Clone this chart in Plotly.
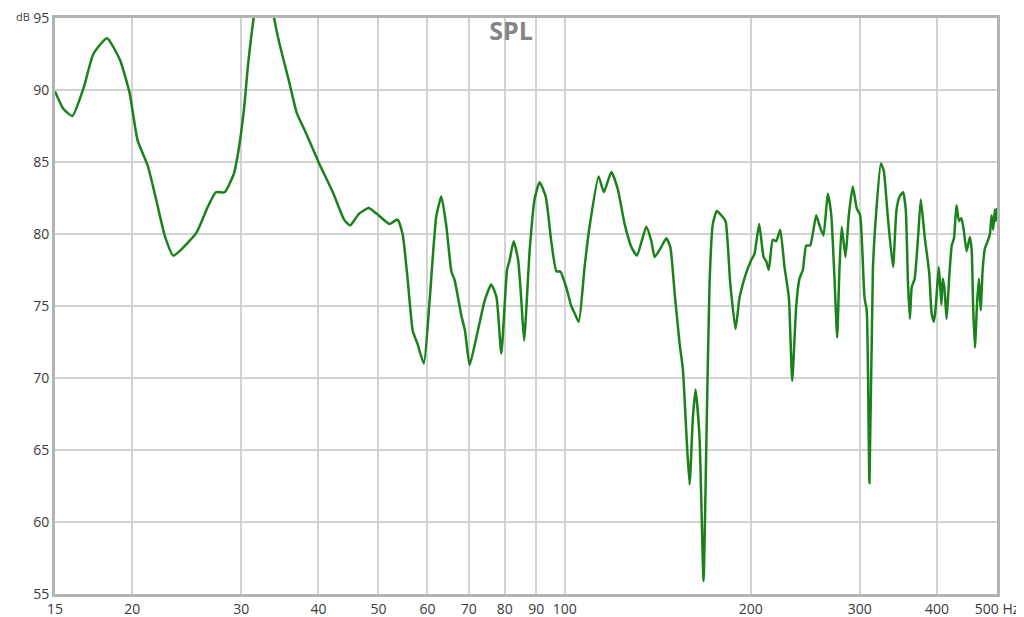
import plotly.graph_objects as go

freq_hz = [15.0, 15.47, 16.0, 16.7, 17.3, 18.2, 19.1, 19.8, 20.4, 21.2, 21.8, 22.6, 23.3, 24.1,
           25.4, 26.5, 27.3, 28.2, 29.2, 29.7, 30.3, 30.8, 31.5, 32.0, 32.7, 33.4, 33.9, 34.6,
           35.8, 36.9, 38.1, 40.1, 42.2, 44.0, 45.0, 46.5, 48.2, 49.7, 52.1, 53.7, 54.7, 55.7,
           56.8, 57.8, 59.2, 60.5, 62.0, 63.2, 64.4, 65.6, 66.4, 68.1, 69.0, 70.2, 72.4, 74.3,
           76.1, 77.6, 79.0, 80.7, 81.5, 82.7, 84.1, 85.1, 86.0, 87.8, 89.4, 91.1, 93.2, 95.2,
           97.0, 98.4, 100.6, 102.5, 103.8, 105.4, 107.7, 109.7, 113.5, 115.7, 119.0, 121.9,
           125.0, 128.2, 130.9, 135.5, 138.1, 139.8, 143.3, 146.0, 148.2, 150.6, 153.4, 155.3,
           157.3, 159.2, 161.2, 162.8, 165.2, 167.7, 169.4, 171.5, 173.6, 176.2, 179.1, 182.0,
           185.2, 188.9, 191.8, 196.6, 200.3, 202.7, 206.3, 209.7, 211.8, 213.8, 217.0, 219.8,
           223.1, 226.7, 230.4, 233.3, 236.8, 239.7, 242.7, 245.8, 249.4, 252.5, 255.1, 258.2,
           262.1, 266.3, 269.7, 273.0, 275.8, 278.1, 280.5, 284.5, 288.0, 292.3, 296.6, 300.4,
           305.3, 307.9, 311.0, 315.0, 318.5, 324.5, 328.0, 333.0, 339.5, 344.0, 348.0, 352.5,
           356.0, 359.0, 361.5, 364.0, 368.0, 373.0, 376.5, 382.0, 388.5, 392.0, 395.5, 398.5,
           402.5, 404.5, 406.5, 408.5, 411.0, 414.5, 418.5, 422.5, 426.0, 430.0, 434.0, 438.0,
           442.0, 446.5, 452.0, 455.0, 457.5, 460.5, 464.5, 467.5, 470.5, 474.0, 478.0, 483.0,
           487.0, 490.0, 493.0, 496.0, 498.0, 500.0]

spl_db = [89.9, 88.7, 88.2, 90.2, 92.5, 93.6, 92.1, 89.8, 86.5, 84.7, 82.6, 79.8, 78.5, 79.0,
          80.1, 81.9, 82.9, 82.9, 84.2, 85.8, 88.6, 91.9, 95.3, 96.8, 97.3, 96.6, 95.0, 93.2,
          90.7, 88.4, 87.1, 84.9, 82.9, 81.0, 80.6, 81.4, 81.8, 81.4, 80.7, 81.0, 80.0, 77.0,
          73.3, 72.4, 71.0, 75.4, 81.2, 82.6, 80.5, 77.4, 76.8, 74.3, 73.3, 70.9, 73.3, 75.4,
          76.5, 75.6, 71.7, 77.5, 78.2, 79.5, 78.2, 75.4, 72.6, 78.9, 82.4, 83.6, 82.6, 79.4,
          77.4, 77.4, 76.3, 75.0, 74.5, 73.9, 77.7, 80.5, 84.0, 82.9, 84.3, 83.1,
          80.7, 79.1, 78.5, 80.5, 79.5, 78.4, 79.1, 79.7, 79.1, 75.9, 72.4, 70.6,
          66.2, 62.6, 67.3, 69.2, 65.9, 55.9, 65.0, 76.6, 80.7, 81.6, 81.3, 80.9,
          76.6, 73.4, 75.6, 77.3, 78.2, 78.6, 80.7, 78.4, 78.1, 77.5, 79.6, 79.5,
          80.3, 77.7, 75.6, 69.8, 75.0, 76.9, 77.5, 79.2, 79.2, 80.3, 81.3, 80.6,
          79.9, 82.8, 81.4, 77.0, 72.8, 77.5, 80.5, 78.4, 81.3, 83.3, 81.8, 81.3,
          75.6, 74.7, 62.7, 77.5, 81.2, 84.9, 84.4, 81.2, 77.7, 81.7, 82.6, 82.9,
          81.7, 76.6, 74.1, 76.3, 76.9, 80.0, 82.4, 79.8, 77.3, 74.5, 73.9, 75.2,
          77.7, 76.5, 75.1, 76.9, 76.3, 74.1, 77.0, 79.2, 79.7, 82.0, 80.9, 81.1,
          80.2, 78.8, 79.8, 78.9, 75.0, 72.1, 75.4, 76.9, 74.7, 77.5, 79.0, 79.5,
          80.0, 81.3, 80.3, 81.7, 80.9, 81.8]

x_tick_vals = [15, 20, 30, 40, 50, 60, 70, 80, 90, 100, 200, 300, 400, 500]
x_tick_text = ["15", "20", "30", "40", "50", "60", "70", "80", "90", "100", "200", "300", "400", "500 Hz"]
y_tick_vals = [55, 60, 65, 70, 75, 80, 85, 90, 95]

# The page body adds an 8px offset, so the figure is sized to fit the 1024x617 window.
FIG_W, FIG_H = 1016, 609

fig = go.Figure()
fig.add_trace(go.Scatter(
    x=freq_hz, y=spl_db, mode="lines",
    line=dict(color="#1b821b", width=2.5, shape="spline", smoothing=0.5),
    hoverinfo="skip", showlegend=False,
))

fig.update_layout(
    width=FIG_W, height=FIG_H,
    margin=dict(l=47, r=27, t=10, b=23, autoexpand=False),
    paper_bgcolor="white", plot_bgcolor="white",
    font=dict(family="Open Sans, Arial, sans-serif", size=14, color="#3a3a3a"),
    title=dict(text="<b>SPL</b>", x=503 / FIG_W, y=1 - 23 / FIG_H, xanchor="center", yanchor="middle",
               automargin=False,
               font=dict(size=25, color="#858585", family="Open Sans, Arial, sans-serif")),
    xaxis=dict(type="log", range=[1.17609, 2.69897], tickvals=x_tick_vals, ticktext=x_tick_text,
               showgrid=True, gridcolor="#d2d2d2", gridwidth=1.5, automargin=False,
               showline=True, linecolor="#b4b4b4", linewidth=3, mirror=True,
               ticklabeloverflow="allow",
               ticks="", zeroline=False, tickfont=dict(size=14, color="#3a3a3a")),
    yaxis=dict(range=[55, 95], tickvals=y_tick_vals, automargin=False,
               showgrid=True, gridcolor="#d2d2d2", gridwidth=1.5,
               showline=True, linecolor="#b4b4b4", linewidth=3, mirror=True,
               ticklabeloverflow="allow",
               ticks="", zeroline=False, tickfont=dict(size=14, color="#3a3a3a")),
    annotations=[dict(text="dB", xref="paper", yref="paper", x=-24 / 942, y=1 + 1 / 576,
                      showarrow=False, xanchor="right", yanchor="middle", borderpad=0,
                      font=dict(size=11, color="#3a3a3a"))],
)

fig.write_html("out.html")
